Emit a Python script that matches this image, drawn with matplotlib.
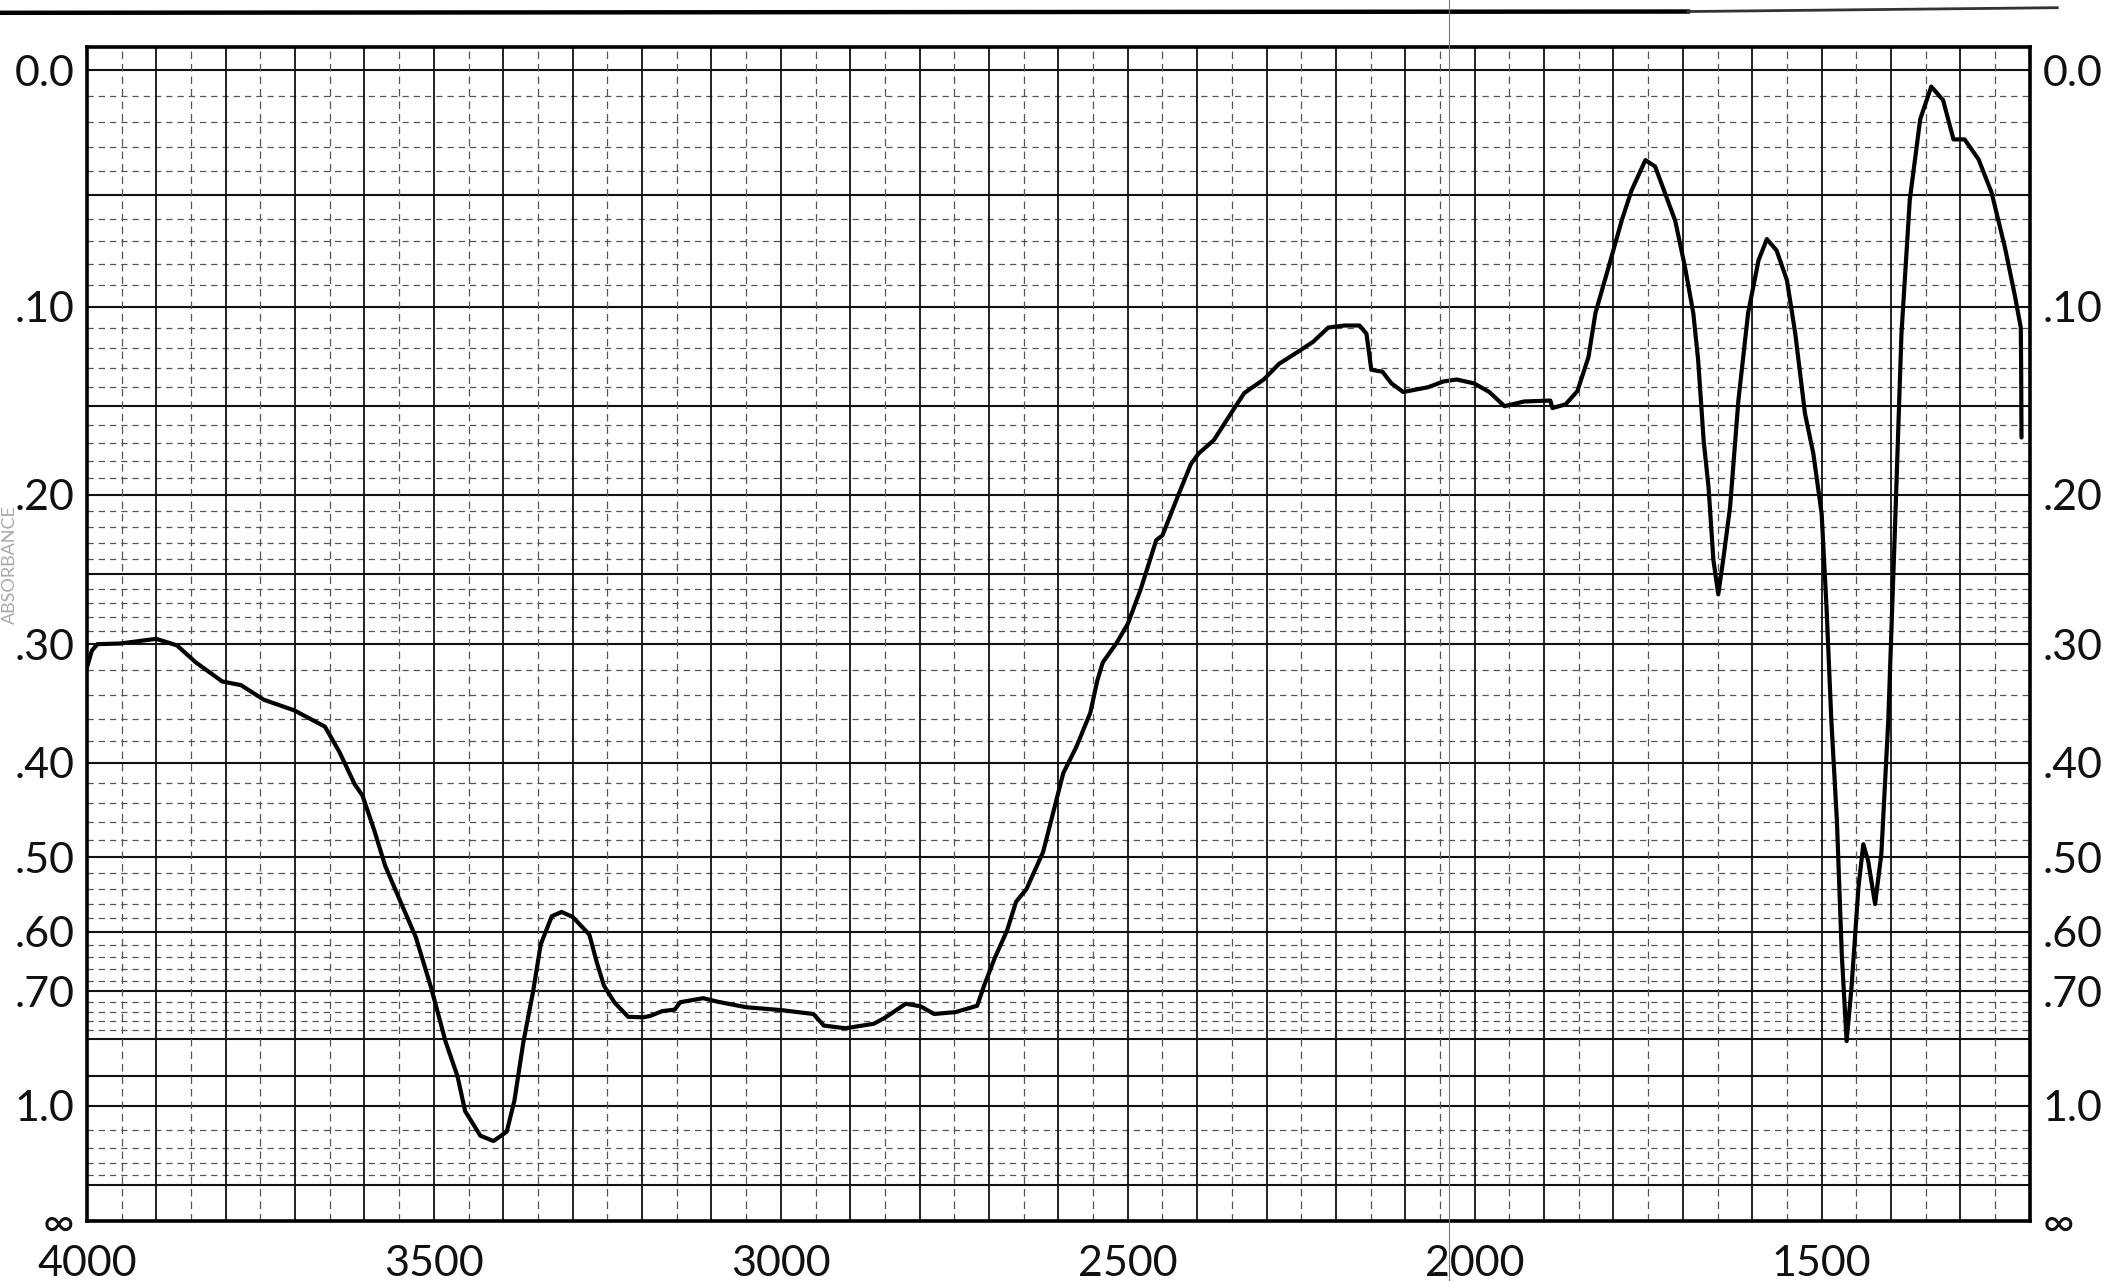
import numpy as np
import matplotlib
matplotlib.use("Agg")
import matplotlib.pyplot as plt
from matplotlib.lines import Line2D

# ---------------- data ----------------
wavenumber = [4000, 3993, 3985, 3952, 3900, 3870, 3843, 3805, 3778, 3745, 3701, 3657,
              3636, 3614, 3603, 3586, 3570, 3548, 3526, 3504, 3483, 3466, 3455, 3433,
              3414, 3395, 3384, 3371, 3357, 3346, 3330, 3316, 3300, 3276, 3265, 3255,
              3240, 3220, 3198, 3188, 3171, 3153, 3145, 3112, 3091, 3050, 2999, 2953,
              2938, 2907, 2866, 2850, 2820, 2799, 2779, 2748, 2717, 2707, 2692, 2674,
              2661, 2646, 2622, 2593, 2574, 2554, 2544, 2536, 2516, 2500, 2481, 2459,
              2450, 2428, 2409, 2398, 2376, 2348, 2332, 2304, 2282, 2255, 2233, 2211,
              2188, 2166, 2156, 2149, 2133, 2120, 2103, 2067, 2045, 2026, 2001, 1979,
              1957, 1929, 1891, 1888, 1869, 1852, 1836, 1826, 1807, 1788, 1774, 1754,
              1740, 1726, 1711, 1697, 1685, 1678, 1670, 1663, 1656, 1649, 1642, 1632,
              1620, 1606, 1591, 1579, 1565, 1550, 1538, 1524, 1512, 1500, 1493, 1486,
              1478, 1471, 1464, 1457, 1447, 1440, 1433, 1423, 1414, 1404, 1394, 1385,
              1373, 1358, 1342, 1325, 1310, 1294, 1274, 1255, 1236, 1222, 1213, 1212.5,
              1212]
absorbance = [0.318, 0.305, 0.300, 0.2995, 0.296, 0.301, 0.314, 0.329, 0.332, 0.344, 0.353, 0.367,
              0.390, 0.421, 0.432, 0.469, 0.511, 0.557, 0.608, 0.693, 0.808, 0.900, 1.02, 1.13,
              1.158, 1.11, 0.981, 0.808, 0.700, 0.619, 0.577, 0.571, 0.578, 0.604, 0.649, 0.689,
              0.721, 0.751, 0.752, 0.749, 0.739, 0.736, 0.721, 0.713, 0.720, 0.731, 0.737, 0.745,
              0.770, 0.776, 0.766, 0.753, 0.724, 0.729, 0.745, 0.741, 0.728, 0.689, 0.642, 0.598,
              0.557, 0.540, 0.494, 0.410, 0.385, 0.355, 0.3285, 0.314, 0.299, 0.285, 0.260, 0.228,
              0.225, 0.201, 0.182, 0.176, 0.1685, 0.152, 0.143, 0.136, 0.128, 0.122, 0.117, 0.110,
              0.109, 0.109, 0.113, 0.131, 0.132, 0.138, 0.1425, 0.140, 0.137, 0.136, 0.138, 0.1425,
              0.150, 0.1475, 0.147, 0.151, 0.149, 0.142, 0.1245, 0.103, 0.0815, 0.0607, 0.048, 0.0354,
              0.038, 0.049, 0.061, 0.0815, 0.103, 0.126, 0.169, 0.1955, 0.241, 0.264, 0.241, 0.2075,
              0.147, 0.103, 0.0785, 0.069, 0.074, 0.0876, 0.113, 0.154, 0.176, 0.2115, 0.273, 0.362,
              0.459, 0.635, 0.806, 0.693, 0.538, 0.485, 0.5045, 0.560, 0.4965, 0.362, 0.216, 0.113,
              0.052, 0.019, 0.0063, 0.0115, 0.027, 0.027, 0.035, 0.049, 0.0725, 0.094, 0.110, 0.130,
              0.167]

x_tick_values = [4000, 3500, 3000, 2500, 2000, 1500]
x_tick_labels = ["4000", "3500", "3000", "2500", "2000", "1500"]
y_tick_absorbance = [0.0, 0.10, 0.20, 0.30, 0.40, 0.50, 0.60, 0.70, 1.0, np.inf]
y_tick_labels = ["0.0", ".10", ".20", ".30", ".40", ".50", ".60", ".70", "1.0", "\u221e"]

# chart-paper rulings (absorbance units / wavenumbers)
h_solid = [0.0, 0.05, 0.10, 0.15, 0.20, 0.25, 0.30, 0.40, 0.50, 0.60, 0.70, 0.80, 0.90, 1.0, 1.5]
h_dashed = ([round(0.01 * i, 2) for i in range(1, 30) if i % 5 != 0]
            + [0.32, 0.34, 0.36, 0.38, 0.42, 0.44, 0.46, 0.48, 0.52, 0.54, 0.56, 0.58,
               0.62, 0.64, 0.66, 0.68, 0.72, 0.74, 0.76, 0.78, 1.1, 1.2, 1.3, 1.4])
v_solid = list(range(3900, 1200, -100))
v_dashed = list(range(3950, 1200, -100))


def to_T(a):
    return 10.0 ** (-np.asarray(a, dtype=float))


plt.rcParams['font.family'] = ['Lato', 'DejaVu Sans']

fig = plt.figure(figsize=(21.10, 12.81), dpi=100)
fig.patch.set_facecolor('white')
ax = fig.add_axes([0.0412, 0.0468, 0.962 - 0.0412, 0.9633 - 0.0468])
ax.set_xlim(4000, 1200)
ax.set_ylim(0, 1.02)

ink = '#111111'
for a in h_solid:
    ax.axhline(to_T(a), color=ink, lw=1.5, zorder=1)
for a in h_dashed:
    ax.axhline(to_T(a), color='#555555', lw=0.9, ls=(0, (5, 4)), zorder=1)
for w in v_solid:
    ax.axvline(w, color=ink, lw=1.3, zorder=1)
for w in v_dashed:
    ax.axvline(w, color='#555555', lw=0.9, ls=(0, (6, 4)), zorder=1)

# spectrum trace
ax.plot(wavenumber, to_T(absorbance), color='black', lw=3.0,
        solid_joinstyle='round', solid_capstyle='round', zorder=3)

for s in ax.spines.values():
    s.set_linewidth(2.6)
    s.set_color('black')

ax.set_xticks(x_tick_values)
ax.set_xticklabels(x_tick_labels)
ax.set_yticks(to_T(y_tick_absorbance))
ax.set_yticklabels(y_tick_labels)
ax.tick_params(axis='x', length=0, pad=17, labelsize=31)
ax.tick_params(axis='y', length=0, pad=9, labelsize=31,
               left=True, right=True, labelleft=True, labelright=True)
for lab in ax.get_xticklabels() + ax.get_yticklabels():
    lab.set_color('#111111')

# scan artifacts: top edge band and a thin vertical scanner line
fig.add_artist(Line2D([0.0, 0.80], [0.990, 0.991], transform=fig.transFigure,
                      color='black', lw=3.2))
fig.add_artist(Line2D([0.80, 0.975], [0.991, 0.994], transform=fig.transFigure,
                      color='#333333', lw=2.0))
fig.add_artist(Line2D([0.6867, 0.6867], [0.0, 1.0], transform=fig.transFigure,
                      color='#777777', lw=0.8))

# faint axis title on the left edge
fig.text(0.0045, 0.559, "ABSORBANCE", rotation=90, ha='center', va='center',
         fontsize=13, color='#a8a8a8')

fig.savefig('out.png', dpi=100, facecolor='white')
